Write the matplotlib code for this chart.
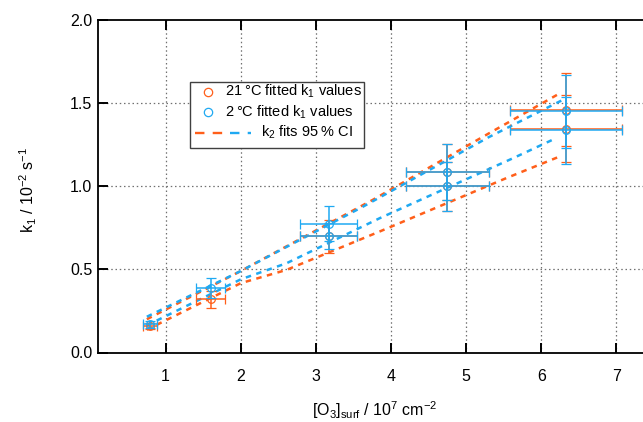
import matplotlib
matplotlib.use("Agg")
import matplotlib.pyplot as plt
from matplotlib.lines import Line2D
from matplotlib.patches import Rectangle

plt.rcParams['font.family'] = ['Liberation Sans', 'DejaVu Sans']
plt.rcParams['mathtext.fontset'] = 'custom'
plt.rcParams['mathtext.rm'] = 'Liberation Sans'
plt.rcParams['mathtext.it'] = 'Liberation Sans:italic'
plt.rcParams['mathtext.default'] = 'regular'

ORANGE = '#FF5F1A'
BLUE = '#1FA9F2'

# ---- data ----
x_21 = [0.79, 1.60, 3.17, 4.75, 4.75, 6.33, 6.33]
y_21 = [0.16, 0.32, 0.70, 1.00, 1.087, 1.346, 1.46]
xerr_21 = [0.09, 0.19, 0.375, 0.55, 0.55, 0.75, 0.75]
yerr_21 = [0.02, 0.05, 0.10, 0.146, 0.167, 0.20, 0.22]

x_2 = [0.79, 1.60, 3.17, 3.17, 4.75, 4.75, 6.33, 6.33]
y_2 = [0.17, 0.39, 0.70, 0.775, 1.00, 1.087, 1.336, 1.45]
xerr_2 = [0.09, 0.19, 0.375, 0.375, 0.55, 0.55, 0.75, 0.75]
yerr_2 = [0.02, 0.06, 0.08, 0.105, 0.146, 0.167, 0.20, 0.22]

# 95% CI bounds of k2 fits
ci21_up_x = [0.75, 2.00, 3.76, 5.31, 6.25]
ci21_up_y = [0.200, 0.490, 0.919, 1.320, 1.560]
ci21_lo_x = [0.75, 2.00, 2.61, 3.85, 5.54, 6.25]
ci21_lo_y = [0.137, 0.417, 0.497, 0.728, 1.050, 1.180]
ci2_up_x = [0.75, 2.00, 3.63, 5.30, 6.31]
ci2_up_y = [0.215, 0.490, 0.878, 1.295, 1.525]
ci2_lo_x = [0.75, 2.00, 2.61, 3.85, 5.63, 6.20]
ci2_lo_y = [0.163, 0.440, 0.537, 0.808, 1.170, 1.290]

x_ticks = [1, 2, 3, 4, 5, 6, 7]
y_ticks = [0.0, 0.5, 1.0, 1.5, 2.0]

W, H = 643, 422
fig = plt.figure(figsize=(W / 100, H / 100), dpi=100)

def fx(px):
    return px / W

def fy(py):
    return 1 - py / H

ax_left, ax_right, ax_top, ax_bot = 98, 654, 20, 352.5
ax = fig.add_axes([fx(ax_left), fy(ax_bot), fx(ax_right - ax_left), (ax_bot - ax_top) / H])
ax.set_xlim(0.1, 7.5)
ax.set_ylim(0.0, 2.0)

# grid
for xv in x_ticks:
    ax.axvline(xv, color='#707070', lw=0.9, ls=(0, (1.2, 2.2)), zorder=0)
for yv in y_ticks[1:-1]:
    ax.axhline(yv, color='#707070', lw=0.9, ls=(0, (1.2, 2.2)), zorder=0)

dash = (0, (2.2, 2.2))
for xs, ys, c in [(ci21_up_x, ci21_up_y, ORANGE), (ci21_lo_x, ci21_lo_y, ORANGE),
                  (ci2_up_x, ci2_up_y, BLUE), (ci2_lo_x, ci2_lo_y, BLUE)]:
    ax.plot(xs, ys, color=c, lw=1.8, ls=dash, zorder=2)

ax.errorbar(x_21, y_21, xerr=xerr_21, yerr=yerr_21, fmt='o', ms=5.5, mfc='none',
            mec=ORANGE, mew=0.9, ecolor=ORANGE, elinewidth=1.1, capsize=3.5,
            capthick=1.1, zorder=3)
ax.errorbar(x_2, y_2, xerr=xerr_2, yerr=yerr_2, fmt='o', ms=5.5, mfc='none',
            mec=BLUE, mew=0.9, ecolor=BLUE, elinewidth=1.1, capsize=3.5,
            capthick=1.1, zorder=4)

ax.set_xticks(x_ticks)
ax.set_xticklabels([str(v) for v in x_ticks])
ax.set_yticks(y_ticks)
ax.set_yticklabels([f'{v:.1f}' for v in y_ticks])
ax.tick_params(axis='x', which='major', direction='in', length=7, width=1.4,
               top=True, bottom=True, labelsize=11.5, pad=12, color='black')
ax.tick_params(axis='y', which='major', direction='in', length=7, width=1.4,
               left=True, right=False, labelsize=11.5, pad=4, color='black')
for s in ['left', 'bottom', 'top']:
    ax.spines[s].set_linewidth(1.3)
ax.spines['right'].set_visible(False)

fig.text(fx(28), fy(190), 'k$_1$ / 10$^{-2}$ s$^{-1}$', rotation=90,
         ha='center', va='center', fontsize=11.5)
fig.text(fx(375), fy(410), '[O$_3$]$_{surf}$ / 10$^7$ cm$^{-2}$',
         ha='center', va='center', fontsize=11.5)

# legend drawn manually
lx0, ly0, lx1, ly1 = 190, 82, 364, 148
fig.patches.append(Rectangle((fx(lx0), fy(ly1)), fx(lx1 - lx0), (ly1 - ly0) / H,
                             transform=fig.transFigure, facecolor='white',
                             edgecolor='#404040', lw=1.0, zorder=5))
rows = [91.7, 112.3, 132.7]
fig.add_artist(Line2D([fx(208)], [fy(rows[0])], marker='o', ms=6, mfc='none',
                      mec=ORANGE, mew=0.9, ls='none', transform=fig.transFigure, zorder=6))
fig.add_artist(Line2D([fx(208)], [fy(rows[1])], marker='o', ms=6, mfc='none',
                      mec=BLUE, mew=0.9, ls='none', transform=fig.transFigure, zorder=6))
fig.add_artist(Line2D([fx(195), fx(224)], [fy(rows[2])] * 2, color=ORANGE, lw=1.7,
                      ls=(0, (4, 3.5)), transform=fig.transFigure, zorder=6))
fig.add_artist(Line2D([fx(230), fx(251)], [fy(rows[2])] * 2, color=BLUE, lw=1.7,
                      ls=(0, (4, 3.5)), transform=fig.transFigure, zorder=6))
fig.text(fx(225), fy(rows[0]), '21\u2009°C fitted k$_1$ values', ha='left',
         va='center', fontsize=10.5, zorder=7)
fig.text(fx(225), fy(rows[1]), '2\u2009°C fitted k$_1$ values', ha='left',
         va='center', fontsize=10.5, zorder=7)
fig.text(fx(261), fy(rows[2]), 'k$_2$ fits 95\u2009% CI', ha='left',
         va='center', fontsize=10.5, zorder=7)

fig.savefig('out.png', dpi=100)
